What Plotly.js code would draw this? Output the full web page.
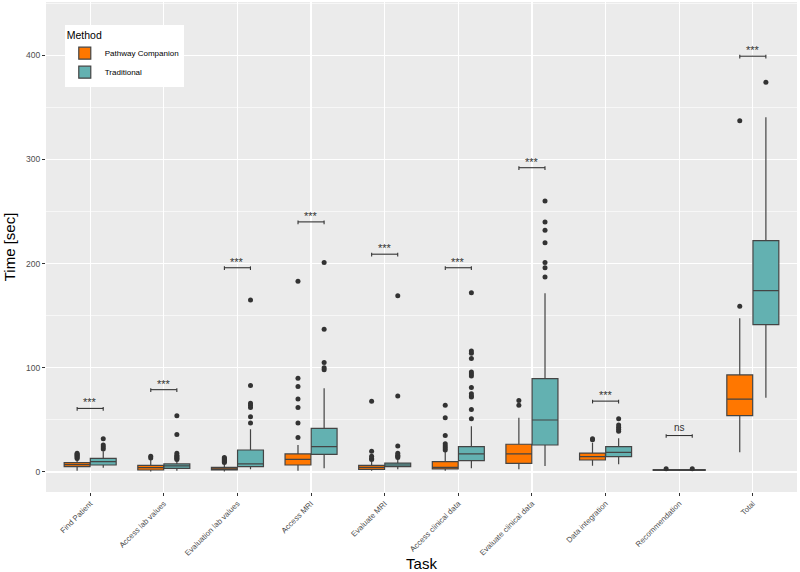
<!DOCTYPE html>
<html>
<head>
<meta charset="utf-8">
<script src="https://cdn.plot.ly/plotly-3.0.1.min.js"></script>
<style>html,body{margin:0;padding:0;background:#fff;}#chart{width:800px;height:572px;}</style>
</head>
<body>
<div id="chart"></div>
<script>
const tasks = ["Find Patient","Access lab values","Evaluation lab values","Access MRI","Evaluate MRI","Access clinical data","Evaluate clinical data","Data integration","Recommendation","Total"];

// Pathway Companion box statistics
const pcLower  = [1.3, 0.5, 0.5, 1.3, 1.3, 1.3, 2.6, 6, 1, 18.9];
const pcQ1     = [5.1, 1.9, 1.9, 6.7, 2.6, 2.9, 8.3, 11.5, 1.5, 54];
const pcMedian = [7.0, 4.1, 2.9, 12.2, 4.5, 4.5, 17.3, 14.7, 2.0, 70];
const pcQ3     = [8.9, 6.4, 4.5, 17.3, 6.4, 9.9, 26.6, 18.2, 2.3, 93.1];
const pcUpper  = [12, 12, 7.5, 25.9, 10, 19.5, 52, 28, 2.6, 147.5];
const pcOutliers = [
  [13,14,15,16,17,18],
  [13.5,15],
  [9,10,11,12,13,14],
  [33,47,62,70,82,90,183],
  [12,13,15,20,68],
  [21,23,25,27,35,52,64],
  [64,68.5],
  [31,32],
  [3.2],
  [159,337]
];

// Traditional box statistics
const trLower  = [4.1, 1.3, 2.6, 3.5, 2.6, 3.5, 5.8, 7.4, 1, 71.3];
const trQ1     = [6.7, 3.5, 5.1, 17, 5.1, 10.9, 25.9, 14.7, 1.5, 141.4];
const trMedian = [9.9, 5.8, 7.7, 24.3, 6.7, 17.3, 49.9, 18.9, 2.0, 174];
const trQ3     = [13.1, 7.7, 21.1, 41.9, 8.6, 24.3, 89.6, 24.3, 2.3, 222];
const trUpper  = [20, 11, 41, 80.3, 13, 44, 171.5, 32.3, 2.6, 340.4];
const trOutliers = [
  [22,24,26,32],
  [12,13,14,15,16,18,36,54],
  [47,53,62,64,66,83,165],
  [98,100,105,137,201],
  [14,15,16,18,25,73,169],
  [51,60,72,73,75,81,92,94,96,109,114,116,172],
  [187,196,201,220,232,240,260],
  [39,41,43,45,51],
  [3.2],
  [374]
];

// Significance brackets
const sigY = [61, 79, 196, 240, 209, 196, 292, 68, 35, 399];
const sigLabel = ["***","***","***","***","***","***","***","***","ns","***"];

const orange = "#FF7700";
const teal = "#63B1B1";
const outline = "#444444";

function boxTrace(name, color, lo, q1, med, q3, up, outl) {
  return {
    type: "box", name: name, x: tasks,
    lowerfence: lo, q1: q1, median: med, q3: q3, upperfence: up,
    y: outl,
    boxpoints: "outliers", jitter: 0, pointpos: 0,
    fillcolor: color,
    line: {color: outline, width: 1.2},
    whiskerwidth: 0,
    marker: {color: "#333333", size: 5, outliercolor: "#333333", line: {width: 0}},
    hoverinfo: "skip"
  };
}

const traces = [
  boxTrace("Pathway Companion", orange, pcLower, pcQ1, pcMedian, pcQ3, pcUpper, pcOutliers),
  boxTrace("Traditional", teal, trLower, trQ1, trMedian, trQ3, trUpper, trOutliers)
];

const half = 0.177;
const tip = 2.2;
const shapes = [];
const annotations = [];
sigY.forEach((yv, i) => {
  const ln = {color: "#333333", width: 1.1};
  shapes.push({type: "line", xref: "x", yref: "y", x0: i - half, x1: i + half, y0: yv, y1: yv, line: ln});
  shapes.push({type: "line", xref: "x", yref: "y", x0: i - half, x1: i - half, y0: yv - tip, y1: yv + tip * 0.6, line: ln});
  shapes.push({type: "line", xref: "x", yref: "y", x0: i + half, x1: i + half, y0: yv - tip, y1: yv + tip * 0.6, line: ln});
  annotations.push({
    x: i, y: yv, xref: "x", yref: "y", text: sigLabel[i], showarrow: false,
    yanchor: "bottom", yshift: sigLabel[i] === "ns" ? 1 : -2,
    font: {size: sigLabel[i] === "ns" ? 10 : 11, color: "#333333", family: "Liberation Sans, Arial, sans-serif"}
  });
});

const layout = {
  width: 800, height: 572,
  margin: {l: 46, r: 3, t: 2, b: 80},
  paper_bgcolor: "#FFFFFF",
  plot_bgcolor: "#EBEBEB",
  font: {family: "Liberation Sans, Arial, sans-serif", color: "#4D4D4D"},
  boxmode: "group",
  boxgap: 0.29,
  boxgroupgap: 0.01,
  showlegend: true,
  legend: {
    x: 0.025, y: 0.953, xanchor: "left", yanchor: "top",
    bgcolor: "#FFFFFF", borderwidth: 0,
    title: {text: "Method", font: {size: 10.5, color: "#000000"}},
    font: {size: 8, color: "#000000"},
    tracegroupgap: 6,
    itemwidth: 30
  },
  xaxis: {
    type: "category",
    range: [-0.6, 9.6],
    showgrid: true, gridcolor: "#FFFFFF", gridwidth: 1.3,
    zeroline: false, showline: false,
    ticks: "outside", ticklen: 3, tickcolor: "#333333", tickwidth: 1,
    tickangle: -45,
    tickfont: {size: 7.8, color: "#4D4D4D"},
    title: {text: "Task", font: {size: 15, color: "#000000"}, standoff: 6}
  },
  yaxis: {
    range: [-19.2, 451],
    tickvals: [0, 100, 200, 300, 400],
    showgrid: true, gridcolor: "#FFFFFF", gridwidth: 1.3,
    minor: {tickvals: [50, 150, 250, 350, 450], showgrid: true, gridcolor: "#FFFFFF", gridwidth: 0.6, ticks: ""},
    zeroline: false, showline: false,
    ticks: "outside", ticklen: 3, tickcolor: "#333333", tickwidth: 1,
    tickfont: {size: 8.5, color: "#4D4D4D"},
    title: {text: "Time [sec]", font: {size: 15, color: "#000000"}, standoff: 6}
  },
  shapes: shapes,
  annotations: annotations
};

Plotly.newPlot("chart", traces, layout, {displayModeBar: false, staticPlot: true});
</script>
</body>
</html>
